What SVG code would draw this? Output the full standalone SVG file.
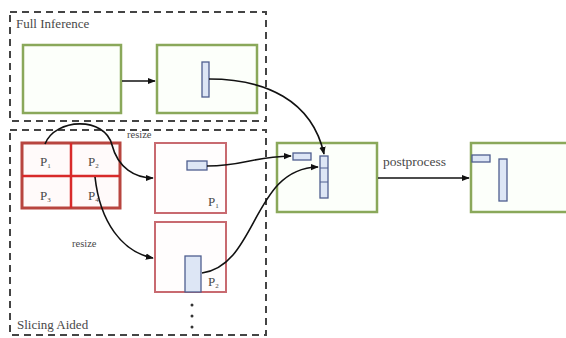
<svg xmlns="http://www.w3.org/2000/svg" width="566" height="338" viewBox="0 0 566 338">
<style>
.dash{fill:none;stroke:#444;stroke-width:2;stroke-dasharray:7 5}
.green{fill:#fcfffa;stroke:#8aa85a;stroke-width:2.5}
.red{fill:#fffdfd;stroke:#c86a70;stroke-width:2}
.blue{fill:#dde6f5;stroke:#4f5f8f;stroke-width:1.3}
.lbl{font-family:'Liberation Serif','Times New Roman','DejaVu Serif',serif;fill:#484848}
.conn{fill:none;stroke:#111;stroke-width:1.6}
</style>
<defs>
<marker id="ah" viewBox="0 0 10 10" refX="9" refY="5" markerWidth="5" markerHeight="5" orient="auto" markerUnits="strokeWidth">
<path d="M0,1 L10,5 L0,9 z" fill="#111"/>
</marker>
</defs>
<rect width="566" height="338" fill="#fff"/>
<g id="full-inference">
<rect class="dash" x="10" y="12" width="256" height="109"/>
<text class="lbl" x="16" y="28" font-size="13">Full Inference</text>
</g>
<g id="slicing-aided">
<rect class="dash" x="10" y="130" width="256" height="205"/>
<text class="lbl" x="17" y="329" font-size="13">Slicing Aided</text>
</g>
<g id="img-full"><rect class="green" x="23" y="45" width="98" height="68"/></g>
<g id="det-full">
<rect class="green" x="157" y="45" width="100" height="68"/>
<rect class="blue" x="202" y="62" width="7" height="35"/>
</g>
<g id="grid">
<rect x="22" y="143" width="98" height="65" fill="#fffafa" stroke="#b8453f" stroke-width="3"/>
<line x1="71" y1="143" x2="71" y2="208" stroke="#d82a2a" stroke-width="2.5"/>
<line x1="22" y1="176" x2="120" y2="176" stroke="#d82a2a" stroke-width="2.5"/>
<text class="lbl" x="40" y="166" font-size="13">P<tspan font-size="7" dy="2">1</tspan></text>
<text class="lbl" x="88" y="166" font-size="13">P<tspan font-size="7" dy="2">2</tspan></text>
<text class="lbl" x="40" y="200" font-size="13">P<tspan font-size="7" dy="2">3</tspan></text>
<text class="lbl" x="88" y="200" font-size="13">P<tspan font-size="7" dy="2">4</tspan></text>
</g>
<g id="slice-p1">
<rect class="red" x="155" y="143" width="71" height="70"/>
<rect class="blue" x="187" y="161" width="20" height="9"/>
<text class="lbl" x="208" y="206" font-size="13">P<tspan font-size="7" dy="2">1</tspan></text>
</g>
<g id="slice-p2">
<rect class="red" x="155" y="222" width="71" height="70"/>
<rect class="blue" x="185" y="256" width="16" height="36"/>
<text class="lbl" x="208" y="286" font-size="13">P<tspan font-size="7" dy="2">2</tspan></text>
</g>
<g id="ellipsis" fill="#333">
<circle cx="192" cy="305" r="1.5"/>
<circle cx="192" cy="316" r="1.5"/>
<circle cx="192" cy="327" r="1.5"/>
</g>
<g id="merged">
<rect class="green" x="277" y="143" width="100" height="69"/>
<rect class="blue" x="293" y="153" width="18" height="7"/>
<rect class="blue" x="320" y="156" width="8" height="42"/>
<line x1="320" y1="168" x2="328" y2="168" stroke="#4f5f8f" stroke-width="1"/>
<line x1="320" y1="182" x2="328" y2="182" stroke="#4f5f8f" stroke-width="1"/>
</g>
<g id="result">
<rect class="green" x="471" y="143" width="100" height="69"/>
<rect class="blue" x="472" y="155" width="18" height="7"/>
<rect class="blue" x="499" y="159" width="8" height="42"/>
</g>
<g id="connectors">
<path class="conn" d="M122,81 L155,81" marker-end="url(#ah)"/>
<path class="conn" d="M209,79 C265,79 312,100 324,154" marker-end="url(#ah)"/>
<path class="conn" d="M45,144 C55,118 105,116 112,145 C118,168 135,178 153,178" marker-end="url(#ah)"/>
<path class="conn" d="M95,177 C100,222 122,252 153,258" marker-end="url(#ah)"/>
<path class="conn" d="M207,166 C245,166 250,157 291,156" marker-end="url(#ah)"/>
<path class="conn" d="M202,273 C258,265 252,168 318,167" marker-end="url(#ah)"/>
<path class="conn" d="M378,178 L469,178" marker-end="url(#ah)"/>
<text class="lbl" x="127" y="138" font-size="10.5">resize</text>
<text class="lbl" x="72" y="247" font-size="10.5">resize</text>
<text class="lbl" x="383" y="166" font-size="13.5">postprocess</text>
</g>
</svg>
